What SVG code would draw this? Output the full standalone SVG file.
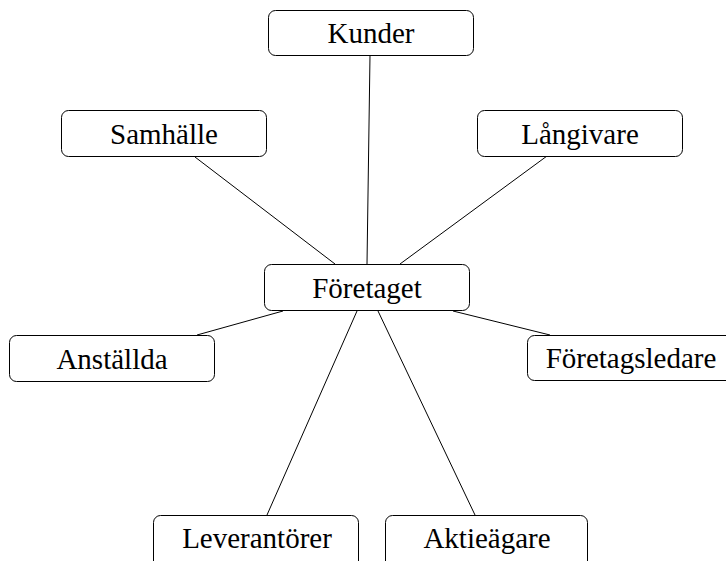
<svg xmlns="http://www.w3.org/2000/svg" width="726" height="561" viewBox="0 0 726 561">
<style>
.box{fill:#fff;stroke:#000;stroke-width:1}
.lbl{font-family:"Liberation Serif","Times New Roman",serif;font-size:29px;fill:#000;text-anchor:middle}
.conn line{stroke:#000;stroke-width:1}
</style>
<rect width="726" height="561" fill="#fff"/>
<g id="connectors" class="conn">
<line x1="370" y1="55" x2="367" y2="264"/>
<line x1="195" y1="157" x2="335" y2="264"/>
<line x1="547" y1="156" x2="400" y2="264"/>
<line x1="197" y1="335" x2="283" y2="311"/>
<line x1="453" y1="311" x2="550" y2="335"/>
<line x1="357" y1="311" x2="267" y2="515"/>
<line x1="378" y1="311" x2="475" y2="515"/>
</g>
<g id="kunder"><rect class="box" x="268.5" y="10.5" width="205" height="45" rx="7"/><text class="lbl" x="371" y="43">Kunder</text></g>
<g id="samhalle"><rect class="box" x="61.5" y="110.5" width="205" height="46" rx="7"/><text class="lbl" x="164" y="144">Samhälle</text></g>
<g id="langivare"><rect class="box" x="477.5" y="110.5" width="205" height="46" rx="7"/><text class="lbl" x="580" y="144">Långivare</text></g>
<g id="foretaget"><rect class="box" x="264.5" y="264.5" width="205" height="46" rx="7"/><text class="lbl" x="367" y="298">Företaget</text></g>
<g id="anstallda"><rect class="box" x="9.5" y="335.5" width="205" height="46" rx="7"/><text class="lbl" x="112" y="369">Anställda</text></g>
<g id="foretagsledare"><rect class="box" x="527.5" y="335.5" width="206" height="45" rx="7"/><text class="lbl" x="631" y="368">Företagsledare</text></g>
<g id="leverantorer"><rect class="box" x="153.5" y="515.5" width="205" height="60" rx="7"/><text class="lbl" x="257" y="548">Leverantörer</text></g>
<g id="aktieagare"><rect class="box" x="385.5" y="515.5" width="202" height="60" rx="7"/><text class="lbl" x="487" y="548">Aktieägare</text></g>
</svg>
